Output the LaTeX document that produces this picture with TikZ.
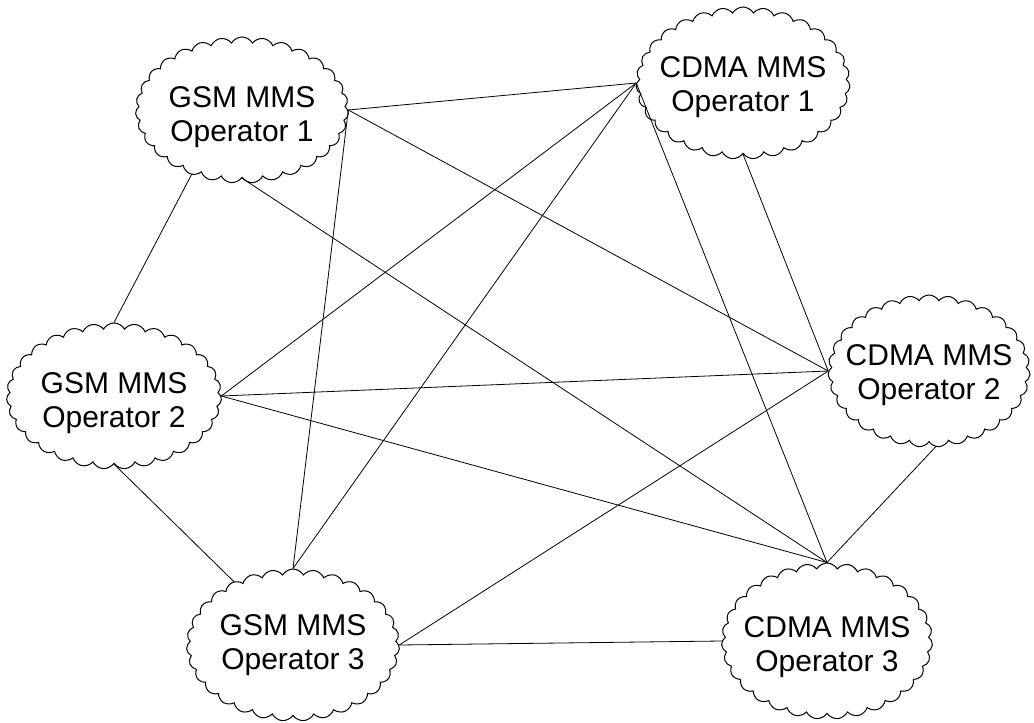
\documentclass[tikz,border=0pt]{standalone}
\usepackage{fontspec}
\setmainfont{Liberation Sans}
\usetikzlibrary{shapes.symbols}
\begin{document}
\begin{tikzpicture}[x=1pt,y=-1pt,
  op/.style={cloud, draw, fill=white, cloud puffs=31, cloud puff arc=120,
    cloud ignores aspect, inner sep=0pt, line width=1pt},
  optext/.style={align=center, inner sep=0pt, font=\fontsize{30}{34.5}\selectfont},
  link/.style={line width=0.8pt}]
\useasboundingbox (0,0) rectangle (1034,723);
% operators
\node[op, minimum width=213pt, minimum height=146pt,
  label={[optext,yshift=-7pt]center:GSM MMS\\Operator 1}] (g1) at (242,110) {};
\node[op, minimum width=214pt, minimum height=152pt,
  label={[optext,yshift=-4pt]center:CDMA MMS\\Operator 1}] (c1) at (743,83) {};
\node[op, minimum width=215pt, minimum height=146pt,
  label={[optext,yshift=-7pt]center:GSM MMS\\Operator 2}] (g2) at (114,396) {};
\node[op, minimum width=202pt, minimum height=152pt,
  label={[optext,yshift=-4pt]center:CDMA MMS\\Operator 2}] (c2) at (929,371) {};
\node[op, minimum width=213pt, minimum height=152pt,
  label={[optext,yshift=0pt]center:GSM MMS\\Operator 3}] (g3) at (293,645) {};
\node[op, minimum width=211pt, minimum height=156pt,
  label={[optext,yshift=-6pt]center:CDMA MMS\\Operator 3}] (c3) at (827,641) {};
% full mesh of interconnections
\draw[link] (g1.east) -- (c1.west);
\draw[link] (g1.east) -- (c2.west);
\draw[link] (g1.east) -- (g3.north);
\draw[link] (g1.south) -- (c3.north);
\draw[link] (g1.-128) -- (g2.north);
\draw[link] (c1.west) -- (g2.east);
\draw[link] (c1.west) -- (g3.north);
\draw[link] (c1.west) -- (c3.north);
\draw[link] (c1.south) -- (c2.west);
\draw[link] (g2.east) -- (c2.west);
\draw[link] (g2.east) -- (c3.north);
\draw[link] (g2.south) -- (g3.133);
\draw[link] (c2.west) -- (g3.east);
\draw[link] (c2.-85) -- (c3.north);
\draw[link] (g3.east) -- (c3.west);
\end{tikzpicture}
\end{document}
